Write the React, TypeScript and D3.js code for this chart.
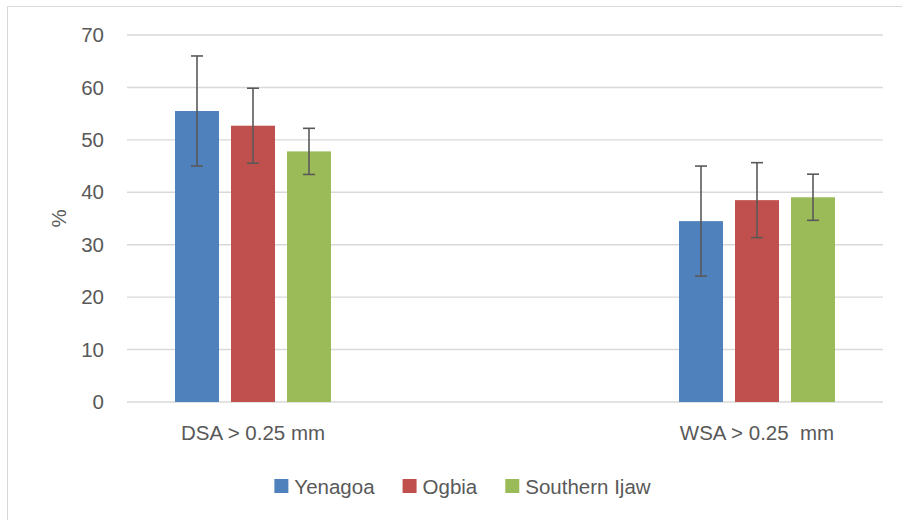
import React from "react";
import * as d3 from "d3";

const categories = ["DSA > 0.25 mm", "WSA > 0.25  mm"];
const seriesNames = ["Yenagoa", "Ogbia", "Southern Ijaw"];
const seriesColors = ["#4f81bd", "#c0504d", "#9bbb59"];
const yenagoa = [55.5, 34.5];
const ogbia = [52.7, 38.5];
const southernIjaw = [47.8, 39.05];
const yenagoaErr = [10.5, 10.5];
const ogbiaErr = [7.15, 7.15];
const southernIjawErr = [4.4, 4.4];
const yTicks = [0, 10, 20, 30, 40, 50, 60, 70];

const values = [yenagoa, ogbia, southernIjaw];
const errors = [yenagoaErr, ogbiaErr, southernIjawErr];

const W = 902;
const H = 520;
const FONT = "'Liberation Sans', Arial, sans-serif";
const TEXT = "#595959";

function measure(text: string, size: number) {
  if (typeof document === "undefined") return text.length * size * 0.5;
  const c = document.createElement("canvas");
  const ctx = c.getContext("2d");
  if (!ctx) return text.length * size * 0.5;
  ctx.font = `${size}px ${FONT}`;
  return ctx.measureText(text).width;
}

export default function App() {
  const plotLeft = 127;
  const plotRight = 883;
  const plotTop = 35;
  const plotBottom = 402;

  const x0 = d3
    .scaleBand<string>()
    .domain(categories)
    .range([plotLeft, plotRight])
    .paddingInner(0.5)
    .paddingOuter(0);
  const x1 = d3
    .scaleBand<string>()
    .domain(seriesNames)
    .range([0, x0.bandwidth()])
    .paddingInner(12 / 56)
    .paddingOuter(48 / 56);
  const y = d3.scaleLinear().domain([0, 70]).range([plotBottom, plotTop]);

  const legendSize = 20.5;
  const sq = 14;
  const gapSqText = 6;
  const gapItems = 28;
  const widths = seriesNames.map((n) => measure(n, legendSize));
  const total =
    widths.reduce((a, b) => a + b, 0) +
    seriesNames.length * (sq + gapSqText) +
    (seriesNames.length - 1) * gapItems;
  let lx = 462.5 - total / 2;
  const legendItems = seriesNames.map((n, i) => {
    const item = { name: n, x: lx, color: seriesColors[i] };
    lx += sq + gapSqText + widths[i] + gapItems;
    return item;
  });

  return (
    <svg
      width={W}
      height={H}
      style={{ position: "absolute", left: 0, top: 0, background: "#fff" }}
      fontFamily={FONT}
    >
      <rect x={7.5} y={6.5} width={W + 20} height={H + 20} fill="#fff" stroke="#d9d9d9" strokeWidth={1} />
      {yTicks.map((t) => (
        <g key={t}>
          <line
            x1={plotLeft}
            x2={plotRight}
            y1={y(t)}
            y2={y(t)}
            stroke="#d9d9d9"
            strokeWidth={1.4}
          />
          <text
            x={104}
            y={y(t)}
            dy="0.35em"
            textAnchor="end"
            fontSize={20.5}
            fill={TEXT}
          >
            {t}
          </text>
        </g>
      ))}
      <text
        transform={`translate(66,${(plotTop + plotBottom) / 2}) rotate(-90)`}
        textAnchor="middle"
        fontSize={20.5}
        fill={TEXT}
      >
        %
      </text>
      {categories.map((c, ci) => (
        <g key={c} transform={`translate(${x0(c)},0)`}>
          {seriesNames.map((s, si) => {
            const v = values[si][ci];
            const e = errors[si][ci];
            const bx = x1(s) as number;
            const cx = bx + x1.bandwidth() / 2;
            return (
              <g key={s}>
                <rect
                  x={bx}
                  y={y(v)}
                  width={x1.bandwidth()}
                  height={y(0) - y(v)}
                  fill={seriesColors[si]}
                />
                <line x1={cx} x2={cx} y1={y(v + e)} y2={y(v - e)} stroke="#595959" strokeWidth={1.6} />
                <line x1={cx - 6} x2={cx + 6} y1={y(v + e)} y2={y(v + e)} stroke="#595959" strokeWidth={1.6} />
                <line x1={cx - 6} x2={cx + 6} y1={y(v - e)} y2={y(v - e)} stroke="#595959" strokeWidth={1.6} />
              </g>
            );
          })}
          <text
            x={x0.bandwidth() / 2}
            y={440}
            textAnchor="middle"
            fontSize={20.5}
            fill={TEXT}
            style={{ whiteSpace: "pre" }}
          >
            {c}
          </text>
        </g>
      ))}
      {legendItems.map((it) => (
        <g key={it.name}>
          <rect x={it.x} y={479} width={sq} height={sq} fill={it.color} />
          <text x={it.x + sq + gapSqText} y={493.5} fontSize={legendSize} fill={TEXT}>
            {it.name}
          </text>
        </g>
      ))}
    </svg>
  );
}
